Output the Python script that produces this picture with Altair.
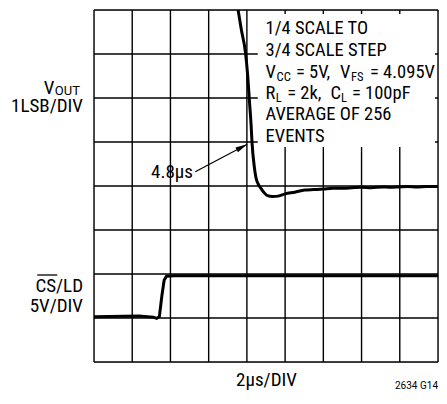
import altair as alt
import pandas as pd

# VOUT trace (time in µs, vertical position in divisions)
vout_t = [7.54, 7.71, 7.93, 8.04, 8.13, 8.22, 8.27, 8.39, 8.47, 8.62, 8.73, 8.88, 9.08, 9.34, 9.64,
          10.0, 10.51, 11.02, 11.5, 11.99, 12.5, 13.06, 13.5, 13.98, 14.5, 15.1, 15.5, 15.97, 16.4,
          16.9, 17.4, 18.0]
vout_y = [8.0, 7.55, 7.02, 6.52, 5.95, 5.39, 4.98, 4.43, 4.20, 4.02, 3.95, 3.86, 3.78, 3.76, 3.77,
          3.82, 3.86, 3.91, 3.92, 3.93, 3.95, 3.95, 3.96, 3.97, 3.96, 3.98, 3.97, 3.98, 3.99,
          3.98, 3.99, 3.99]

# CS/LD trace
cs_t = [0, 2.35, 3.1, 3.28, 3.42, 3.55, 3.67, 3.79, 4.2, 18]
cs_y = [1.03, 1.045, 1.02, 0.99, 1.03, 1.5, 1.86, 1.95, 1.96, 1.96]

# grid divisions
x_grid = [0, 2, 4, 6, 8, 10, 12, 14, 16, 18]
y_grid = [0, 1, 2, 3, 4, 5, 6, 7, 8]

# annotation box and arrow (data units)
box_x = [8.57]
box_x2 = [17.84]
box_y = [4.886]
box_y2 = [7.91]
arrow_t = [5.3]
arrow_y = [4.325]
arrow_t2 = [8.02]
arrow_y2 = [4.95]

FONT = "Roboto Condensed"

xs = alt.Scale(domain=[0, 18], nice=False, zero=False)
ys = alt.Scale(domain=[0, 8], nice=False, zero=False)

vout = pd.DataFrame({"t": vout_t, "v": vout_y})
cs = pd.DataFrame({"t": cs_t, "v": cs_y})

vgrid = alt.Chart(pd.DataFrame({"t": x_grid, "lo": 0, "hi": 8})).mark_rule(
    color="black", strokeWidth=1.4).encode(
    x=alt.X("t:Q", scale=xs, axis=None), y=alt.Y("lo:Q", scale=ys, axis=None), y2="hi:Q")
hgrid = alt.Chart(pd.DataFrame({"v": y_grid, "lo": 0, "hi": 18})).mark_rule(
    color="black", strokeWidth=1.4).encode(
    y=alt.Y("v:Q", scale=ys, axis=None), x=alt.X("lo:Q", scale=xs, axis=None), x2="hi:Q")

box = alt.Chart(pd.DataFrame({"x": box_x, "x2": box_x2, "y": box_y, "y2": box_y2})).mark_rect(
    color="white").encode(x=alt.X("x:Q", scale=xs, axis=None), x2="x2:Q",
                          y=alt.Y("y:Q", scale=ys, axis=None), y2="y2:Q")

line_v = alt.Chart(vout).mark_line(color="black", strokeWidth=3, interpolate="monotone").encode(
    x=alt.X("t:Q", scale=xs, axis=None), y=alt.Y("v:Q", scale=ys, axis=None))
line_cs = alt.Chart(cs).mark_line(color="black", strokeWidth=3).encode(
    x=alt.X("t:Q", scale=xs, axis=None), y=alt.Y("v:Q", scale=ys, axis=None))

arrow_df = pd.DataFrame({"t": arrow_t, "v": arrow_y, "t2": arrow_t2, "v2": arrow_y2})
arrow_line = alt.Chart(arrow_df).mark_rule(color="black", strokeWidth=1.2).encode(
    x=alt.X("t:Q", scale=xs, axis=None), y=alt.Y("v:Q", scale=ys, axis=None), x2="t2:Q", y2="v2:Q")
arrow_head = alt.Chart(arrow_df).mark_point(
    shape="M0,0 L-2,-0.45 L-2,0.45 Z", filled=True, color="black", opacity=1, size=144,
    angle=332).encode(x=alt.X("t2:Q", scale=xs, axis=None), y=alt.Y("v2:Q", scale=ys, axis=None))

one = pd.DataFrame({"a": [0]})


def label(text, x, y, size=18.5, align="left", font=FONT):
    return alt.Chart(one).mark_text(text=text, font=font, fontSize=size, align=align,
                                    baseline="alphabetic", color="black").encode(
        x=alt.value(x), y=alt.value(y))


labels = [
    label("1/4 SCALE TO", 171.6, 24.3),
    label("3/4 SCALE STEP", 171.6, 45.8),
    label("V", 171.6, 67.8), label("CC", 182.6, 70.6, 12.5),
    label("= 5V,", 202.0, 67.8), label("V", 246.0, 67.8), label("FS", 257.0, 70.6, 12.5),
    label("= 4.095V", 276.0, 67.8),
    label("R", 171.6, 89.0), label("L", 181.8, 91.8, 12.5),
    label("= 2k,", 193.2, 89.0), label("C", 236.5, 89.0), label("L", 247.0, 91.8, 12.5),
    label("= 100pF", 258.0, 89.0),
    label("AVERAGE OF 256", 171.6, 110.3),
    label("EVENTS", 171.6, 131.8),
    label("4.8µs", 57.0, 167.7, 19),
    label("V", -39.7, 84.0, 19, "right"), label("OUT", -39.2, 85.0, 13, "left", "Roboto"),
    label("1LSB/DIV", -11, 101.7, 19, "right"),
    label("CS/LD", -11, 282.3, 19, "right"),
    label("5V/DIV", -11, 301.7, 19, "right"),
    label("2µs/DIV", 172.5, 376.0, 19, "center"),
    label("2634 G14", 344.0, 378.5, 10, "right", "Roboto"),
]

overline = alt.Chart(one).mark_rule(color="black", strokeWidth=1.3).encode(
    x=alt.value(-56.7), x2=alt.value(-36.7), y=alt.value(265.0))

chart = alt.layer(vgrid, hgrid, box, arrow_line, arrow_head, line_cs, line_v, overline, *labels).properties(
    width=344, height=352,
    autosize=alt.AutoSizeParams(type="none"),
    padding={"left": 86, "top": 2, "right": 1, "bottom": 28},
).configure_view(stroke="black", strokeWidth=1.8).configure(background="white")

chart.save("out.html", embed_options={"renderer": "svg", "actions": False})
